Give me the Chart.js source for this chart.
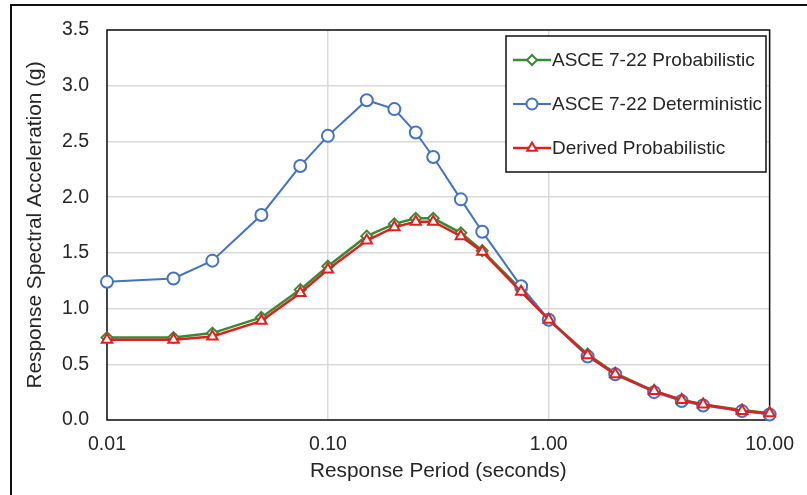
<!DOCTYPE html>
<html>
<head>
<meta charset="utf-8">
<script src="https://cdn.jsdelivr.net/npm/chart.js@4/dist/chart.umd.min.js"></script>
<style>
  html, body { margin: 0; padding: 0; background: #fff; }
  #wrap { width: 807px; height: 495px; }
</style>
</head>
<body>
<div id="wrap"><canvas id="chart" width="807" height="495"></canvas></div>
<script>
// periodos y ordenadas espectrales
const periods = [0.01, 0.02, 0.03, 0.05, 0.075, 0.1, 0.15, 0.2, 0.25, 0.3, 0.4, 0.5, 0.75, 1, 1.5, 2, 3, 4, 5, 7.5, 10];
const asceProb = [0.74, 0.74, 0.78, 0.92, 1.17, 1.38, 1.65, 1.76, 1.81, 1.81, 1.68, 1.52, 1.17, 0.90, 0.59, 0.42, 0.26, 0.18, 0.14, 0.09, 0.06];
const asceDet = [1.24, 1.27, 1.43, 1.84, 2.28, 2.55, 2.87, 2.79, 2.58, 2.36, 1.98, 1.69, 1.20, 0.90, 0.57, 0.41, 0.25, 0.17, 0.13, 0.08, 0.05];
const derived = [0.72, 0.72, 0.75, 0.89, 1.14, 1.35, 1.61, 1.73, 1.78, 1.78, 1.65, 1.51, 1.15, 0.90, 0.58, 0.41, 0.26, 0.18, 0.14, 0.08, 0.06];
const xTicks = [0.01, 0.1, 1, 10];
const seriesNames = ["ASCE 7-22 Probabilistic", "ASCE 7-22 Deterministic", "Derived Probabilistic"];

const FONT = "'Liberation Sans', Arial, sans-serif";
const TEXT = "#262626";
const pts = arr => periods.map((p, i) => ({ x: p, y: arr[i] }));

// marco exterior y caja del area de trazado
const framePlugin = {
  id: "frame",
  beforeDraw(chart) {
    const c = chart.ctx;
    c.save();
    c.fillStyle = "#fff";
    c.fillRect(0, 0, chart.width, chart.height);
    c.strokeStyle = "#111";
    c.lineWidth = 2;
    c.beginPath();
    c.moveTo(11, chart.height);
    c.lineTo(11, 5);
    c.lineTo(chart.width, 5);
    c.stroke();
    c.restore();
  },
  beforeDatasetsDraw(chart) {
    const a = chart.chartArea;
    const c = chart.ctx;
    c.save();
    c.strokeStyle = "#111";
    c.lineWidth = 1.5;
    c.strokeRect(a.left, a.top, a.right - a.left, a.bottom - a.top);
    c.restore();
  }
};

// leyenda dentro del grafico, con recuadro
const legendPlugin = {
  id: "boxLegend",
  afterDatasetsDraw(chart) {
    const c = chart.ctx;
    const x0 = 506, y0 = 36, w = 260, h = 136;
    c.save();
    c.fillStyle = "#fff";
    c.fillRect(x0, y0, w, h);
    c.strokeStyle = "#111";
    c.lineWidth = 1.5;
    c.strokeRect(x0, y0, w, h);
    const rows = [60, 104, 148];
    chart.data.datasets.forEach((ds, i) => {
      const y = rows[i];
      c.strokeStyle = ds.borderColor;
      c.lineWidth = ds.borderWidth;
      c.beginPath();
      c.moveTo(513, y);
      c.lineTo(551, y);
      c.stroke();
      c.fillStyle = "#fff";
      c.strokeStyle = ds.borderColor;
      c.lineWidth = ds.pointBorderWidth;
      Chart.helpers.drawPoint(c, { pointStyle: ds.pointStyle, radius: ds.pointRadius - 0.5, rotation: 0, borderWidth: ds.pointBorderWidth }, 532, y);
      c.fillStyle = TEXT;
      c.font = "19px " + FONT;
      c.textBaseline = "middle";
      c.fillText(ds.label, 552, y + 1);
    });
    c.restore();
  }
};

const ctx = document.getElementById("chart").getContext("2d");
const chart = new Chart(ctx, {
  type: "line",
  data: {
    datasets: [
      {
        label: seriesNames[0],
        data: pts(asceProb),
        borderColor: "#3a8a35",
        backgroundColor: "#fff",
        borderWidth: 2.5,
        pointStyle: "rectRot",
        pointRadius: 5.5,
        pointBorderWidth: 2,
        pointBackgroundColor: "#fff",
        order: 2
      },
      {
        label: seriesNames[1],
        data: pts(asceDet),
        borderColor: "#4472c4",
        backgroundColor: "#fff",
        borderWidth: 2,
        pointStyle: "circle",
        pointRadius: 6,
        pointBorderWidth: 2,
        pointBackgroundColor: "#fff",
        order: 1
      },
      {
        label: seriesNames[2],
        data: pts(derived),
        borderColor: "#e0201e",
        backgroundColor: "#fff",
        borderWidth: 2.5,
        pointStyle: "triangle",
        pointRadius: 6,
        pointBorderWidth: 2,
        pointBackgroundColor: "#fff",
        order: 0
      }
    ]
  },
  options: {
    responsive: false,
    animation: false,
    clip: false,
    layout: { padding: { left: 0, top: 30, right: 35, bottom: 0 } },
    plugins: {
      legend: { display: false },
      tooltip: { enabled: false }
    },
    scales: {
      x: {
        type: "logarithmic",
        min: 0.01,
        max: 10,
        afterBuildTicks: s => { s.ticks = xTicks.map(v => ({ value: v })); },
        afterFit: s => { s.height = 75; },
        ticks: {
          autoSkip: false,
          maxRotation: 0,
          padding: 13,
          color: TEXT,
          font: { family: FONT, size: 19.5 },
          callback: v => Number(v).toFixed(2)
        },
        grid: { color: "#d9d9d9", lineWidth: 1.5, drawTicks: false },
        border: { display: false },
        title: {
          display: true,
          text: "Response Period (seconds)",
          color: TEXT,
          font: { family: FONT, size: 20.8 },
          padding: { top: 0, bottom: 11 }
        }
      },
      y: {
        min: 0,
        max: 3.5,
        afterFit: s => { s.width = 107; },
        ticks: {
          stepSize: 0.5,
          padding: 18,
          color: TEXT,
          font: { family: FONT, size: 19.5 },
          callback: v => Number(v).toFixed(1)
        },
        grid: { color: "#d9d9d9", lineWidth: 1.5, drawTicks: false },
        border: { display: false },
        title: {
          display: true,
          text: "Response Spectral Acceleration (g)",
          color: TEXT,
          font: { family: FONT, size: 20.8 },
          padding: { top: 23, bottom: 0 }
        }
      }
    }
  },
  plugins: [framePlugin, legendPlugin]
});
</script>
</body>
</html>
